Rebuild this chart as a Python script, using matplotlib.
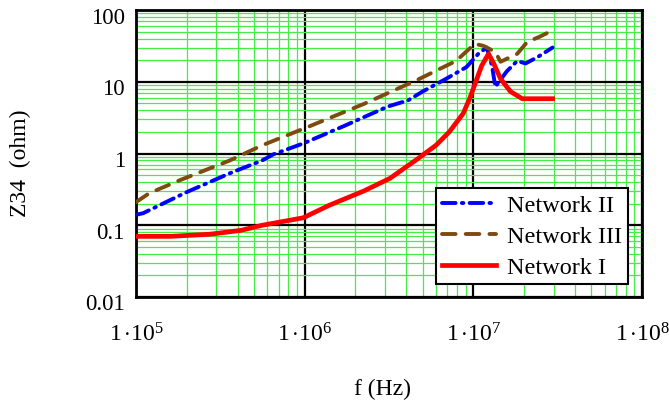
import matplotlib
matplotlib.use("Agg")
import matplotlib.pyplot as plt
from matplotlib.ticker import LogLocator, FixedLocator, FixedFormatter, NullFormatter
from matplotlib.transforms import ScaledTranslation

plt.rcParams['font.family'] = ['Liberation Serif', 'DejaVu Serif']
plt.rcParams['mathtext.fontset'] = 'custom'
plt.rcParams['mathtext.rm'] = 'Liberation Serif'
plt.rcParams['mathtext.it'] = 'Liberation Serif'

# Network I (red, solid)
f1 = [1.0e5, 1.6e5, 2.75e5, 4.2e5, 5.6e5, 9.8e5, 1.4e6, 2.24e6, 3.2e6, 4.7e6, 6.0e6,
      7.2e6, 8.7e6, 9.5e6, 1.05e7, 1.12e7, 1.23e7, 1.32e7, 1.45e7, 1.66e7, 1.95e7, 2.95e7]
z1 = [0.070, 0.070, 0.075, 0.085, 0.10, 0.127, 0.19, 0.30, 0.45, 0.85, 1.3,
      2.0, 3.6, 5.8, 11.0, 16.7, 24.5, 18.0, 11.0, 7.3, 5.8, 5.8]

# Network II (blue, dash-dot)
f2 = [1.0e5, 1.1e5, 2.0e5, 3.6e5, 5.6e5, 6.5e5, 9.8e5, 1.7e6, 3.1e6, 4.1e6, 5.0e6,
      6.9e6, 9.1e6, 1.07e7, 1.2e7, 1.29e7, 1.35e7, 1.58e7, 1.82e7, 2.04e7, 2.4e7, 2.95e7]
z2 = [0.14, 0.147, 0.29, 0.53, 0.80, 0.97, 1.38, 2.4, 4.5, 5.5, 7.3,
      11.0, 16.0, 24.5, 30.0, 16.7, 8.5, 14.0, 19.5, 18.0, 22.0, 30.0]

# Network III (brown, dashed)
f3 = [1.0e5, 1.2e5, 1.8e5, 3.6e5, 5.6e5, 1.07e6, 2.24e6, 2.8e6, 4.8e6, 7.9e6, 1.02e7,
      1.15e7, 1.35e7, 1.45e7, 1.82e7, 2.09e7, 2.45e7, 2.8e7]
z3 = [0.21, 0.28, 0.42, 0.80, 1.3, 2.4, 4.9, 6.2, 11.0, 19.5, 33.8,
      31.6, 26.0, 19.0, 24.5, 36.0, 42.0, 49.0]

xticks = [1e5, 1e6, 1e7, 1e8]
xticklabels = [r'$1\,{\cdot}10^{5}$', r'$1\,{\cdot}10^{6}$', r'$1\,{\cdot}10^{7}$', r'$1\,{\cdot}10^{8}$']
yticks = [0.01, 0.1, 1, 10, 100]
yticklabels = ['0.01', '0.1', '1', '10', '100']

fig = plt.figure(figsize=(6.69, 4.06), dpi=100)
ax = fig.add_axes([136/669, 1-298/406, 506/669, 287/406])

l2, = ax.plot(f2, z2, color='#0000ff', lw=2.8, linestyle=(0, (3.5, 1.6, 0.4, 1.6)),
              label='Network II', zorder=3)
l2.set_dash_capstyle('round')
l3, = ax.plot(f3, z3, color='#7f4a0f', lw=2.8, linestyle=(0, (3.5, 2.6)),
              label='Network III', zorder=3)
l3.set_dash_capstyle('round')
ax.plot(f1, z1, color='#ff0000', lw=3.4, label='Network I', zorder=4)

ax.set_xscale('log')
ax.set_yscale('log')
ax.set_xlim(1e5, 1e8)
ax.set_ylim(0.01, 100)

ax.xaxis.set_major_locator(FixedLocator(xticks))
ax.xaxis.set_major_formatter(FixedFormatter(xticklabels))
ax.yaxis.set_major_locator(FixedLocator(yticks))
ax.yaxis.set_major_formatter(FixedFormatter(yticklabels))
ax.xaxis.set_minor_locator(LogLocator(base=10, subs=range(2, 10), numticks=20))
ax.yaxis.set_minor_locator(LogLocator(base=10, subs=range(2, 10), numticks=20))
ax.xaxis.set_minor_formatter(NullFormatter())
ax.yaxis.set_minor_formatter(NullFormatter())

ax.grid(which='minor', color='#44ee44', lw=0.9, zorder=1)
ax.grid(which='major', color='black', lw=1.6, zorder=2)
ax.set_axisbelow(True)
ax.tick_params(which='both', length=0)
ax.tick_params(axis='x', labelsize=17, pad=18)
ax.tick_params(axis='y', labelsize=16.5, pad=8)
for s in ax.spines.values():
    s.set_linewidth(2)
    s.set_color('black')

off = ScaledTranslation(0, -4.5/100, fig.dpi_scale_trans)
for lab in ax.get_yticklabels():
    lab.set_transform(lab.get_transform() + off)

fig.text(383/669, 1-389/406, 'f (Hz)', fontsize=17, ha='center', va='center')
fig.text(20/669, 1-163/406, 'Z34  (ohm)', fontsize=17, ha='center', va='center', rotation=90)

leg = ax.legend(loc='lower right', bbox_to_anchor=(0.972, 0.045), borderaxespad=0,
                fontsize=17.5, handlelength=2.2, fancybox=False, framealpha=1,
                edgecolor='black', borderpad=0.25, labelspacing=0.36, handletextpad=0.45)
leg.get_frame().set_linewidth(1.5)

fig.savefig('out.png', dpi=100)
